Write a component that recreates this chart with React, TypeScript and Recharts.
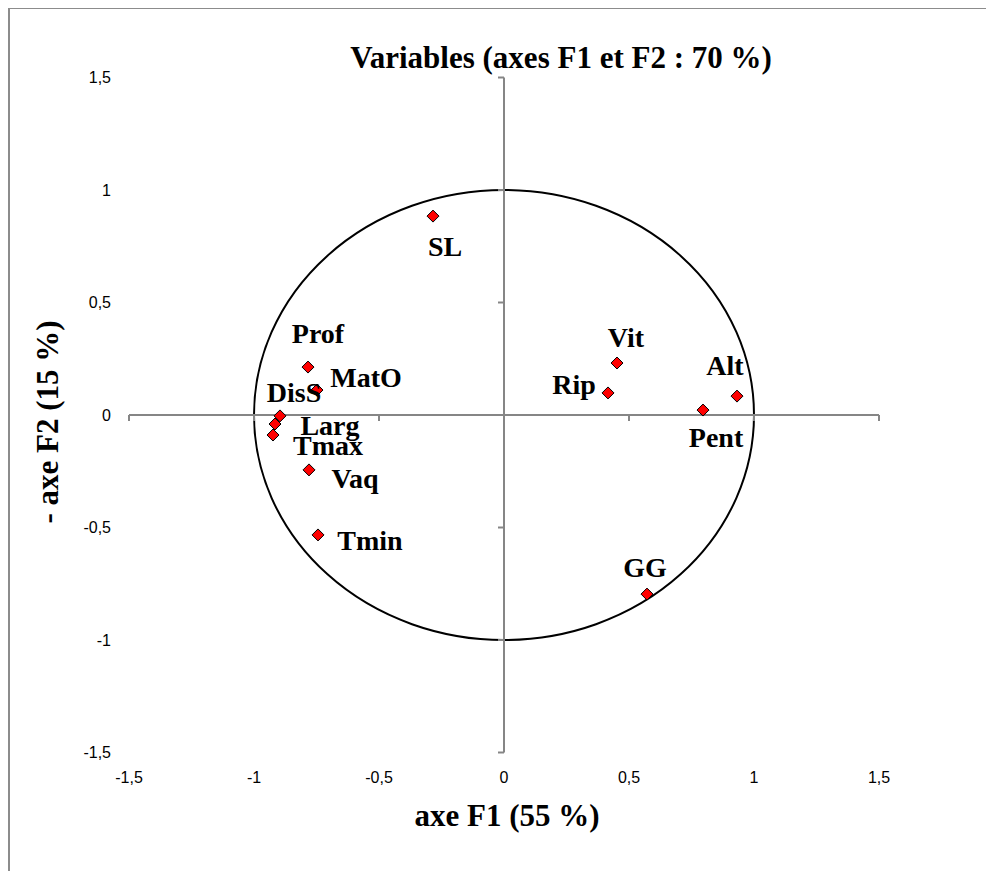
import { ScatterChart, Scatter, XAxis, YAxis, ReferenceLine, ReferenceArea, ReferenceDot } from 'recharts'

const variables = ['SL', 'Prof', 'MatO', 'DisS', 'Larg', 'Tmax', 'Vaq', 'Tmin', 'Vit', 'Rip', 'Alt', 'Pent', 'GG']
const f1 = [-0.284, -0.784, -0.748, -0.896, -0.916, -0.924, -0.78, -0.744, 0.452, 0.416, 0.932, 0.796, 0.572]
const f2 = [0.884, 0.213, 0.111, -0.004, -0.04, -0.089, -0.244, -0.533, 0.231, 0.098, 0.084, 0.022, -0.796]
const axisTicks = [-1.5, -1, -0.5, 0, 0.5, 1, 1.5]

// label placement next to each marker: [dx, dy to baseline] in px
const labelOffsets: [number, number][] = [
  [12, 40], [10, -24], [49, -3], [14, -14], [55, 11], [55, 20], [46, 18],
  [52, 15], [9, -16], [-34, 1], [-12, -21], [13, 37], [-2, -17],
]

const points = variables.map((name, i) => ({ name, x: f1[i], y: f2[i] }))

const AXIS_GREY = '#868686'
const serif = '"Liberation Serif", "Times New Roman", serif'
const fmt = (v: number) => String(v).replace('.', ',')

function Diamond({ cx, cy }: any) {
  const r = 6
  return (
    <polygon
      points={`${cx},${cy - r} ${cx + r},${cy} ${cx},${cy + r} ${cx - r},${cy}`}
      fill="#ff0000"
      stroke="#000"
      strokeWidth={1}
    />
  )
}

function PointLabel({ cx, cy, payload }: any) {
  const i = variables.indexOf(payload?.name)
  const [dx, dy] = labelOffsets[i] ?? [0, 0]
  return (
    <text x={cx + dx} y={cy + dy} textAnchor="middle" fontFamily={serif} fontWeight="bold" fontSize={28} fill="#000">
      {payload?.name}
    </text>
  )
}

function UnitCircle({ x, y, width, height }: any) {
  return <ellipse cx={x + width / 2} cy={y + height / 2} rx={width / 2} ry={height / 2} fill="none" stroke="#000" strokeWidth={2} />
}

const tickDown = ({ cx, cy }: any) => <line x1={cx} y1={cy} x2={cx} y2={cy + 6} stroke={AXIS_GREY} strokeWidth={2} />
const tickLeft = ({ cx, cy }: any) => <line x1={cx - 6} y1={cy} x2={cx} y2={cy} stroke={AXIS_GREY} strokeWidth={2} />

export default function App() {
  const tickStyle = { fontFamily: '"Liberation Sans", Arial, sans-serif', fontSize: 16, fill: '#000' }
  return (
    <div style={{ position: 'relative', width: 978, height: 863 }}>
      <div
        style={{
          position: 'absolute', left: 0, top: -1, width: 978, height: 864, boxSizing: 'border-box',
          borderTop: '2px solid #8c8c8c', borderLeft: '2px solid #8c8c8c',
        }}
      />
      <div style={{ position: 'absolute', left: 0, top: 0 }}>
        <ScatterChart width={978} height={863} margin={{ top: 69.5, right: 107, bottom: 88.5, left: 81 }}>
          <XAxis
            type="number" dataKey="x" domain={[-1.5, 1.5]} ticks={axisTicks} tickFormatter={fmt}
            axisLine={false} tickLine={false} tickSize={10} tickMargin={9} height={30} tick={tickStyle}
          />
          <YAxis
            type="number" dataKey="y" domain={[-1.5, 1.5]} ticks={axisTicks} tickFormatter={fmt}
            axisLine={false} tickLine={false} tickSize={10} tickMargin={8} width={40} tick={tickStyle}
          />
          <ReferenceArea x1={-1} x2={1} y1={-1} y2={1} shape={UnitCircle} />
          <ReferenceLine y={0} stroke={AXIS_GREY} strokeWidth={2} />
          <ReferenceLine x={0} stroke={AXIS_GREY} strokeWidth={2} />
          {axisTicks.map((t) => (
            <ReferenceDot key={`xt${t}`} x={t} y={0} shape={tickDown} />
          ))}
          {axisTicks.map((t) => (
            <ReferenceDot key={`yt${t}`} x={0} y={t} shape={tickLeft} />
          ))}
          <Scatter data={points} shape={Diamond} isAnimationActive={false} />
          <Scatter data={points} shape={PointLabel} isAnimationActive={false} />
        </ScatterChart>
      </div>
      <svg width={978} height={863} style={{ position: 'absolute', left: 0, top: 0, pointerEvents: 'none' }}>
        <text x={553} y={60} textAnchor="middle" fontFamily={serif} fontWeight="bold" fontSize={31} fill="#000">
          Variables (axes F1 et F2 : 70 %)
        </text>
        <text x={499} y={818} textAnchor="middle" fontFamily={serif} fontWeight="bold" fontSize={31} fill="#000">
          axe F1 (55 %)
        </text>
        <text
          x={50} y={414} textAnchor="middle" fontFamily={serif} fontWeight="bold" fontSize={31} fill="#000"
          transform="rotate(-90 50 414)"
        >
          - axe F2 (15 %)
        </text>
      </svg>
    </div>
  )
}
